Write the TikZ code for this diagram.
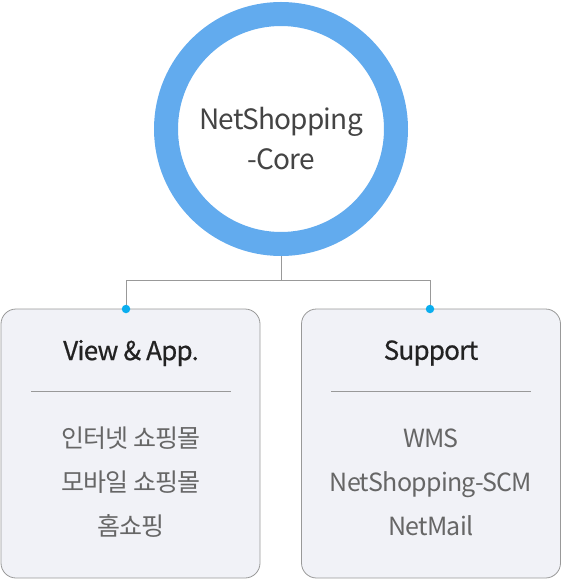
\documentclass[tikz,border=0pt]{standalone}
\usepackage{fontspec}
\setmainfont{Noto Sans CJK KR}[LetterSpace=-3]
\newfontfamily\titlefont{Noto Sans CJK KR}[LetterSpace=-3, FakeBold=0.6]
\usetikzlibrary{positioning}
\definecolor{ringblue}{HTML}{62ABEE}
\definecolor{dotcyan}{HTML}{0AAEEF}
\definecolor{linegray}{HTML}{999999}
\definecolor{boxfill}{HTML}{F1F2F7}
\definecolor{coretext}{HTML}{444444}
\definecolor{titletext}{HTML}{222222}
\definecolor{itemtext}{HTML}{666666}

\begin{document}
\begin{tikzpicture}[x=1pt, y=-1pt,
    corering/.style={circle, draw=ringblue, line width=24pt, fill=white, minimum size=230pt},
    corelabel/.style={align=center, text=coretext, font=\fontsize{28}{40}\selectfont},
    groupbox/.style={draw=linegray, fill=boxfill, rounded corners=15pt, line width=0.8pt,
      minimum width=259pt, minimum height=269pt},
    grouptitle/.style={text=titletext, font=\titlefont\fontsize{26}{30}\selectfont},
    groupitems/.style={align=center, text=itemtext, font=\fontsize{25}{44}\selectfont},
    link/.style={draw=linegray, line width=1pt},
    pin/.style={circle, fill=dotcyan, inner sep=0pt, minimum size=8.5pt}]
    \useasboundingbox (0,0) rectangle (562,580);

    % centre ring
    \node[corering] (core) at (281,129) {};
    \node[corelabel] (coretitle) at (281,139) {NetShopping\\-Core};

    % the two groups
    \node[groupbox] (viewbox) at (130.5,443.5) {};
    \node[groupbox] (supportbox) at (431,443.5) {};
    \node[grouptitle] (viewtitle) at (131,353) {View \& App.};
    \node[grouptitle] (supporttitle) at (431,353) {Support};
    \draw[link] (31,391) -- (231,391);
    \draw[link] (331,391) -- (531,391);
    \node[groupitems] (viewitems) at (131,482) {인터넷 쇼핑몰\\모바일 쇼핑몰\\홈쇼핑};
    \node[groupitems] (supportitems) at (431,482) {WMS\\NetShopping-SCM\\NetMail};

    % connectors
    \coordinate (split) at (281,280);
    \coordinate (viewtop) at (126,309);
    \coordinate (supporttop) at (430,309);
    \draw[link] (core.south) -- (split) -| (viewtop);
    \draw[link] (split) -| (supporttop);
    \node[pin] at (viewtop) {};
    \node[pin] at (supporttop) {};
\end{tikzpicture}
\end{document}
